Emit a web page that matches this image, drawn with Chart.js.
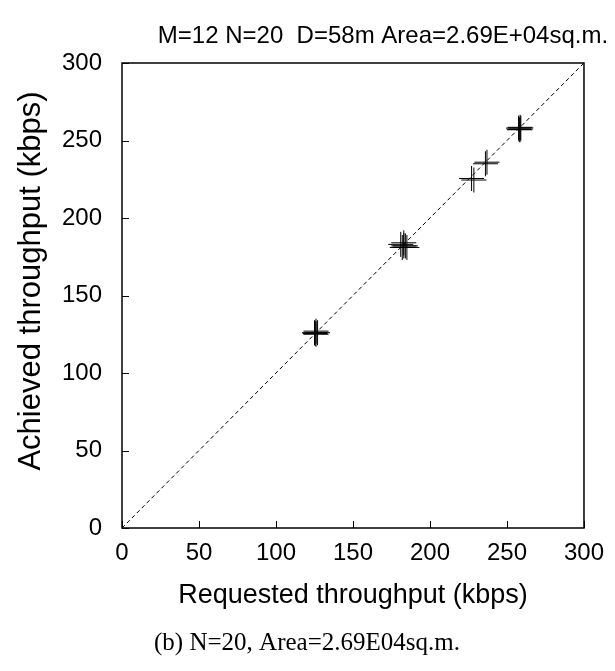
<!DOCTYPE html>
<html>
<head>
<meta charset="utf-8">
<script src="https://cdn.jsdelivr.net/npm/chart.js@4.4.0/dist/chart.umd.min.js"></script>
<style>
  html, body { margin: 0; padding: 0; background: #fff; }
  canvas { display: block; }
</style>
</head>
<body>
<canvas id="chart" width="615" height="671"></canvas>
<script>
// tick labels (kbps)
const axisTicks = [0, 50, 100, 150, 200, 250, 300];

// requested vs achieved throughput for the 20 flows
const requested = [125, 126, 126, 127, 125.5,
  181, 182, 183, 184, 185, 183,
  227, 228.5,
  236, 237,
  257.5, 258.5, 258.5, 258, 259];
const achieved = [126, 127, 125, 126, 125.5,
  183, 181, 184, 182, 181, 182,
  225.5, 224.5,
  235, 236,
  258, 257, 258.5, 257, 258];

// y = x reference line
const diagonal = [0, 300];

const titleText = 'M=12 N=20  D=58m Area=2.69E+04sq.m.';
const captionText = '(b) N=20, Area=2.69E04sq.m.';
const yTitle = 'Achieved throughput (kbps)';

const sans = 'Liberation Sans, Arial, sans-serif';
const serif = 'Liberation Serif, Times New Roman, serif';

const frame = {
  id: 'frame',
  afterDatasetsDraw(chart) {
    const { ctx, chartArea: a, scales } = chart;
    ctx.save();
    ctx.strokeStyle = '#000';
    ctx.lineWidth = 1;
    // inward tick marks
    axisTicks.forEach((t) => {
      const px = Math.round(scales.x.getPixelForValue(t)) + 0.5;
      const py = Math.round(scales.y.getPixelForValue(t)) + 0.5;
      ctx.beginPath();
      ctx.moveTo(px, a.bottom);
      ctx.lineTo(px, a.bottom - 7);
      ctx.moveTo(a.left, py);
      ctx.lineTo(a.left + 7, py);
      ctx.stroke();
    });
    ctx.lineWidth = 1.5;
    ctx.strokeRect(a.left, a.top, a.right - a.left, a.bottom - a.top);
    ctx.restore();
  },
  afterDraw(chart) {
    const { ctx } = chart;
    ctx.save();
    ctx.fillStyle = '#000';
    ctx.textAlign = 'center';
    ctx.textBaseline = 'middle';
    ctx.font = '24px ' + sans;
    ctx.fillText(titleText, 383, 36);
    ctx.font = '25px ' + serif;
    ctx.fillText(captionText, 307, 643);
    // y axis title, sitting a little above the middle of the axis
    ctx.translate(31, 281);
    ctx.rotate(-Math.PI / 2);
    ctx.font = '31px ' + sans;
    ctx.fillText(yTitle, 0, 0);
    ctx.restore();
  }
};

new Chart(document.getElementById('chart'), {
  data: {
    datasets: [
      {
        type: 'scatter',
        data: requested.map((x, i) => ({ x, y: achieved[i] })),
        pointStyle: 'cross',
        pointRadius: 12.5,
        pointHoverRadius: 12.5,
        borderColor: '#000',
        borderWidth: 1,
        order: 1
      },
      {
        type: 'line',
        data: diagonal.map((v) => ({ x: v, y: v })),
        borderColor: '#000',
        borderWidth: 1,
        borderDash: [4, 3],
        pointRadius: 0,
        order: 2
      }
    ]
  },
  options: {
    responsive: false,
    animation: false,
    events: [],
    layout: { padding: { top: 63, right: 27, left: 0, bottom: 53 } },
    plugins: { legend: { display: false }, tooltip: { enabled: false } },
    scales: {
      x: {
        type: 'linear',
        min: 0,
        max: 300,
        afterBuildTicks: (s) => { s.ticks = axisTicks.map((v) => ({ value: v })); },
        afterFit: (s) => { s.height = 90; },
        grid: { display: false, drawTicks: false },
        border: { display: false },
        ticks: { color: '#000', padding: 11, font: { family: sans, size: 24 } },
        title: {
          display: true,
          text: 'Requested throughput (kbps)',
          color: '#000',
          font: { family: sans, size: 27 },
          padding: { top: 0, bottom: 6 }
        }
      },
      y: {
        type: 'linear',
        min: 0,
        max: 300,
        afterBuildTicks: (s) => { s.ticks = axisTicks.map((v) => ({ value: v })); },
        afterFit: (s) => { s.width = 122; },
        grid: { display: false, drawTicks: false },
        border: { display: false },
        ticks: { color: '#000', padding: 20, font: { family: sans, size: 24 } },
        title: { display: false }
      }
    }
  },
  plugins: [frame]
});
</script>
</body>
</html>
